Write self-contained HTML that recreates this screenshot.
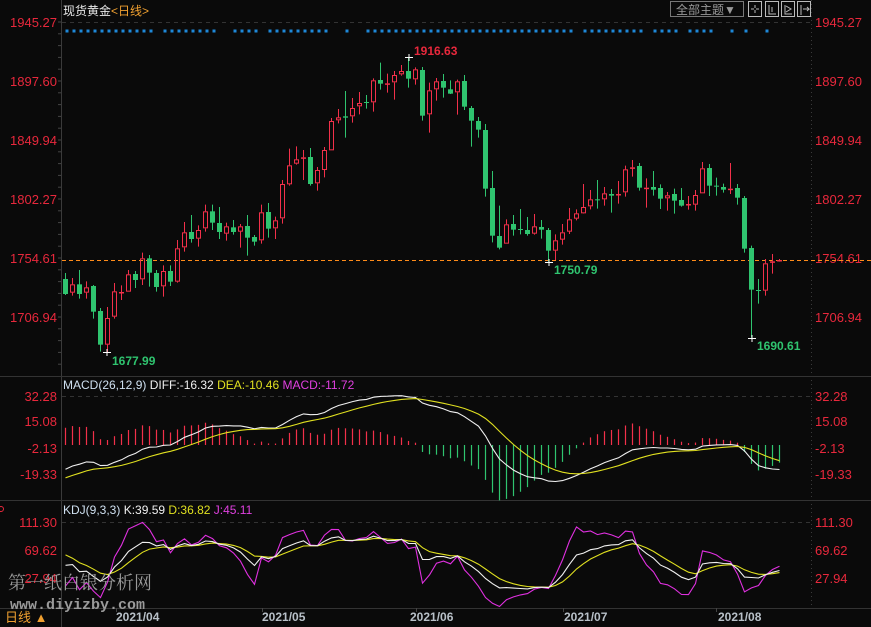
<!DOCTYPE html>
<html><head><meta charset="utf-8"><style>
html,body{margin:0;padding:0;background:#0a0a0a;}
svg{display:block;font-family:"Liberation Sans","Noto Sans CJK SC",sans-serif;}
</style></head><body>
<svg id="s" width="871" height="627" viewBox="0 0 871 627" xmlns="http://www.w3.org/2000/svg">
<rect width="871" height="627" fill="#0a0a0a"/>
<line x1="61.5" y1="0" x2="61.5" y2="627" stroke="#3a3a3a"/>
<line x1="811.5" y1="0" x2="811.5" y2="608" stroke="#3a3a3a" stroke-dasharray="1,3"/>
<line x1="0" y1="376.5" x2="871" y2="376.5" stroke="#333"/>
<line x1="0" y1="500.5" x2="871" y2="500.5" stroke="#333"/>
<line x1="0" y1="608.5" x2="871" y2="608.5" stroke="#333"/>
<line x1="62" y1="22.5" x2="811" y2="22.5" stroke="#333" stroke-dasharray="4,4"/>
<line x1="62" y1="396.5" x2="811" y2="396.5" stroke="#333" stroke-dasharray="4,4"/>
<line x1="62" y1="522.5" x2="811" y2="522.5" stroke="#333" stroke-dasharray="4,4"/>
<g id="ticks"></g>
<text x="63" y="15" font-size="12" fill="#e8e8e8">现货黄金<tspan fill="#f0a030">&lt;日线&gt;</tspan></text>
<rect x="670.5" y="1.5" width="73" height="15" fill="none" stroke="#777"/>
<text x="676" y="14" font-size="12" fill="#999">全部主题▼</text>
<g fill="none" stroke="#bbb">
<rect x="748.5" y="1.5" width="13" height="15"/><rect x="765.5" y="1.5" width="13" height="15"/>
<rect x="781.5" y="1.5" width="13" height="15"/><rect x="797.5" y="1.5" width="13" height="15"/>
<path d="M755 5v3M755 10v3M751 9h3M756 9h3M769 5v9h7M772 7v5M785 5v9h7M786 6l5 3-5 3M801 5v10M803 9h6l-2-2M807 11l2-2"/>
</g>
<g font-size="13" fill="#e8283c">
<g text-anchor="end">
<text x="57" y="27">1945.27</text><text x="57" y="86">1897.60</text><text x="57" y="145">1849.94</text>
<text x="57" y="204">1802.27</text><text x="57" y="263">1754.61</text><text x="57" y="322">1706.94</text>
<text x="57" y="401">32.28</text><text x="57" y="426">15.08</text><text x="57" y="453">-2.13</text><text x="57" y="479">-19.33</text>
<text x="57" y="527">111.30</text><text x="57" y="555">69.62</text><text x="57" y="583">27.94</text>
</g>
<text x="815" y="27">1945.27</text><text x="815" y="86">1897.60</text><text x="815" y="145">1849.94</text>
<text x="815" y="204">1802.27</text><text x="815" y="263">1754.61</text><text x="815" y="322">1706.94</text>
<text x="815" y="401">32.28</text><text x="815" y="426">15.08</text><text x="815" y="453">-2.13</text><text x="815" y="479">-19.33</text>
<text x="815" y="527">111.30</text><text x="815" y="555">69.62</text><text x="815" y="583">27.94</text>
</g>
<g id="dots" fill="#1e88d8"></g>
<line x1="62" y1="260.5" x2="871" y2="260.5" stroke="#ff8c1a" stroke-dasharray="4,3"/>
<g id="candles"></g>
<g id="macd"></g>
<clipPath id="kc"><rect x="62" y="501" width="749" height="107"/></clipPath>
<g id="kdj" clip-path="url(#kc)"></g>
<g font-size="12" font-weight="bold">
<text x="414" y="55" fill="#e8283c">1916.63</text>
<text x="112" y="365" fill="#2fc46f">1677.99</text>
<text x="554" y="274" fill="#2fc46f">1750.79</text>
<text x="757" y="350" fill="#2fc46f">1690.61</text>
</g>
<g stroke="#fff"><path d="M405 57.5h8M409 54v7M103 352.5h8M107 349v7M545 262.5h8M549 259v7M748 338.5h8M752 335v7"/></g>
<text x="63" y="389" font-size="12" fill="#cfe0f0">MACD(26,12,9) <tspan fill="#f0f0f0">DIFF:-16.32</tspan>  <tspan fill="#e0e020">DEA:-10.46</tspan>  <tspan fill="#e040e0">MACD:-11.72</tspan></text>
<text x="63" y="514" font-size="12" fill="#cfe0f0">KDJ(9,3,3) <tspan fill="#f0f0f0">K:39.59</tspan>  <tspan fill="#e0e020">D:36.82</tspan>  <tspan fill="#e040e0">J:45.11</tspan></text>
<circle cx="1" cy="509" r="2.5" fill="none" stroke="#e8283c"/>
<g font-size="12" font-weight="bold" fill="#b8c0c8">
<text x="116" y="621">2021/04</text><text x="262" y="621">2021/05</text><text x="410" y="621">2021/06</text>
<text x="564" y="621">2021/07</text><text x="718" y="621">2021/08</text>
</g>
<g stroke="#444"><path d="M116.5 608v4M262.5 608v4M416.5 608v4M563.5 608v4M716.5 608v4"/></g>
<text x="5" y="622" font-size="13" fill="#f0a030">日线 ▲</text>
<text x="8" y="589" font-size="18" fill="#9a9a9a" font-family="'Noto Serif CJK SC','Liberation Serif',serif">第一纸白银分析网</text>
<text x="10" y="609" font-size="15" fill="#9a9a9a" font-family="'Liberation Mono',monospace" font-weight="bold">www.diyizby.com</text>
</svg>
<script>
const NS="http://www.w3.org/2000/svg";
function el(p,t,a){const e=document.createElementNS(NS,t);for(const k in a)e.setAttribute(k,a[k]);p.appendChild(e);return e;}
const C=[[717,762,699,765,'G'],[733,758,714,767,'R'],[733,762,690,776,'G'],[742,758,724,776,'R'],[738,815,735,836,'G'],
[813,914,804,935,'G'],[834,914,801,938,'R'],[754,830,729,836,'R'],[756,758,736,780,'R'],[703,755,690,755,'R'],
[702,720,693,744,'G'],[655,718,638,735,'R'],[655,698,645,740,'G'],[699,741,690,755,'G'],[693,739,676,770,'R'],
[693,725,676,738,'G'],[625,725,600,728,'R'],[577,622,546,635,'R'],[576,597,525,608,'G'],[570,596,556,620,'R'],
[514,565,494,575,'R'],[514,548,494,570,'G'],[549,576,501,597,'G'],[559,581,548,602,'R'],[562,576,540,584,'G'],
[559,575,552,623,'R'],[558,593,525,647,'G'],[591,605,585,617,'G'],[517,601,494,611,'R'],[516,566,489,593,'G'],
[541,565,530,597,'R'],[432,535,420,551,'R'],[376,433,326,437,'R'],[358,371,319,374,'R'],[352,355,330,420,'R'],
[351,432,324,437,'G'],[390,430,381,452,'R'],[330,390,321,412,'R'],[243,331,234,331,'R'],[232,241,207,250,'R'],
[229,233,153,293,'G'],[204,229,174,248,'R'],[189,199,156,223,'R'],[186,188,165,206,'G'],[121,187,115,215,'R'],
[120,131,68,149,'G'],[130,133,101,158,'R'],[105,127,93,179,'R'],[93,103,75,107,'R'],[93,116,52,143,'G'],
[88,118,82,134,'R'],[90,227,81,242,'G'],[151,223,128,278,'R'],[124,148,114,182,'R'],
[123,143,102,173,'G'],[148,161,121,162,'G'],[124,157,119,224,'R'],[123,200,105,210,'G'],[204,242,198,320,'G'],
[243,269,231,293,'G'],[270,446,252,470,'G'],[444,587,393,607,'G'],[588,623,497,628,'G'],[553,611,538,611,'R'],
[552,569,525,587,'G'],[567,569,507,583,'G'],[570,582,531,587,'G'],[559,581,522,584,'R'],[561,569,540,596,'G'],
[570,632,564,665,'G'],[601,632,583,660,'R'],[577,599,552,614,'R'],[538,575,504,582,'R'],[520,536,508,541,'R'],
[501,520,432,521,'R'],[478,499,450,508,'R'],[478,480,420,506,'G'],[460,478,441,497,'R'],[462,467,447,518,'G'],
[462,465,423,491,'R'],[388,457,377,470,'R'],[382,385,360,410,'R'],[378,443,369,452,'G'],[443,446,415,503,'R'],
[441,449,393,467,'G'],[444,476,433,507,'G'],[466,475,456,512,'R'],[462,482,446,521,'G'],[480,497,444,500,'G'],
[492,496,468,509,'R'],[465,494,450,512,'R'],[385,460,366,460,'R'],[384,437,372,468,'G'],[437,440,413,467,'G'],
[441,449,431,458,'G'],[446,449,369,462,'R'],[444,473,432,494,'G'],[474,626,468,638,'G'],[624,749,617,893,'G'],
[750,752,717,791,'G'],[670,752,657,767,'R'],[664,666,642,701,'R'],[660,663,657,665,'R']];
const RED="#f2304a",GRN="#2fc46f";
const cg=document.getElementById('candles');
const P=y=>1945.27-(y-22)/1.2378;
const hi=[],lo=[],cl=[];
C.forEach((c,i)=>{
 const x=65.5+7*i; const Y=v=>40+v/3;
 let bt=Y(c[0]),bb=Y(c[1]),wt=Y(c[2]),wb=Y(c[3]);
 if(bb-bt<1)bb=bt+1;
 hi.push(P(wt));lo.push(P(wb));cl.push(P(c[4]=='R'?bt:bb));
 if(c[4]=='G'){
  el(cg,'line',{x1:x,y1:wt,x2:x,y2:wb,stroke:GRN});
  el(cg,'rect',{x:x-2.5,y:bt,width:5,height:bb-bt,fill:GRN});
 }else{
  el(cg,'line',{x1:x,y1:wt,x2:x,y2:bt,stroke:RED});
  el(cg,'line',{x1:x,y1:bb,x2:x,y2:wb,stroke:RED});
  el(cg,'rect',{x:x-2,y:bt+0.5,width:4,height:Math.max(bb-bt-1,0.5),fill:'none',stroke:RED});
 }
});
const dg=document.getElementById('dots');
const di=[];for(let k=0;k<=12;k++)di.push(k);for(let k=14;k<=21;k++)di.push(k);for(let k=24;k<=27;k++)di.push(k);
for(let k=29;k<=37;k++)di.push(k);di.push(40);for(let k=43;k<=72;k++)di.push(k);for(let k=74;k<=82;k++)di.push(k);
for(let k=84;k<=87;k++)di.push(k);for(let k=89;k<=92;k++)di.push(k);di.push(95,97,100);
di.forEach(k=>el(dg,'rect',{x:67+7*k-1.5,y:29.5,width:3,height:3,fill:'#1e88d8'}));
const mg=document.getElementById('macd');
let e12=cl[0]-4,e26=cl[0]+12,dea=-21.7;
const DF=[],DE=[];
cl.forEach((c,i)=>{ if(i>0){e12=e12*11/13+c*2/13;e26=e26*25/27+c*2/27;} const d=e12-e26; if(i>0)dea=dea*0.8+d*0.2; DF.push(d);DE.push(dea);});
const My=v=>445-v*1.512;
DF.forEach((d,i)=>{const h=2*(d-DE[i]);const x=65.5+7*i;
 el(mg,'line',{x1:x,y1:445,x2:x,y2:My(h),stroke:h>=0?RED:GRN,'stroke-width':1.2});});
const pl=(g,arr,f,col)=>el(g,'polyline',{points:arr.map((v,i)=>(65.5+7*i)+','+f(v).toFixed(1)).join(' '),fill:'none',stroke:col,'stroke-width':1.1});
pl(mg,DF,My,'#f0f0f0');pl(mg,DE,My,'#e0e020');
const kg=document.getElementById('kdj');
let K=68,D=70;const KK=[],DD=[],JJ=[];
cl.forEach((c,i)=>{const s=Math.max(0,i-8);const H=Math.max(...hi.slice(s,i+1)),L=Math.min(...lo.slice(s,i+1));
 const r=H>L?(c-L)/(H-L)*100:50;K=K*2/3+r/3;D=D*2/3+K/3;KK.push(K);DD.push(D);JJ.push(3*K-2*D);});
const Ky=v=>550-(v-69.62)*0.6718;
pl(kg,JJ,Ky,'#e030e0');pl(kg,DD,Ky,'#e0e020');pl(kg,KK,Ky,'#f0f0f0');
const tg=document.getElementById('ticks');
for(let y=22;y<376;y+=11.8){el(tg,'line',{x1:58,y1:y,x2:61,y2:y,stroke:'#444'});}
</script>
</body></html>
